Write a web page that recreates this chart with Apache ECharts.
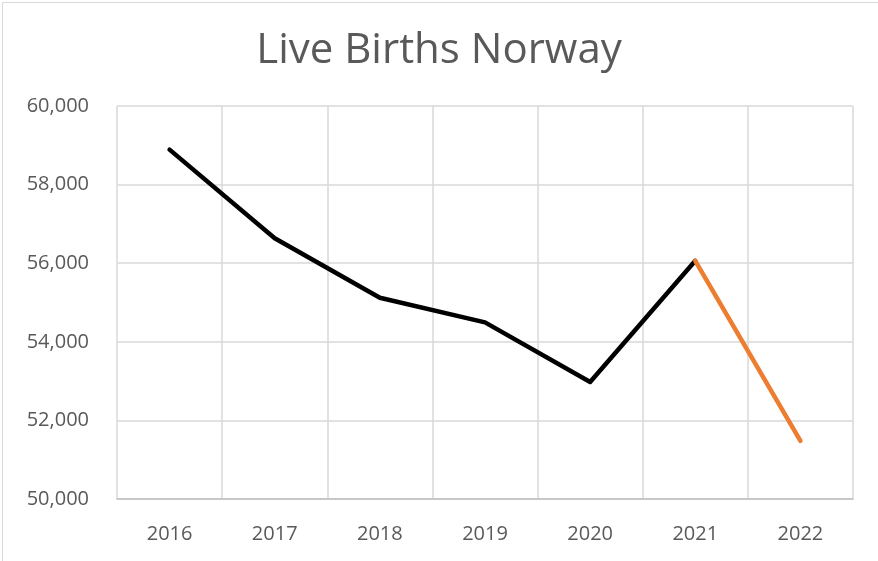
<!DOCTYPE html>
<html>
<head>
<meta charset="utf-8">
<script src="https://cdn.jsdelivr.net/npm/echarts@6/dist/echarts.min.js"></script>
<style>
html,body{margin:0;padding:0;background:#fff;}
#chart{width:878px;height:561px;}
</style>
</head>
<body>
<div id="chart"></div>
<script>
const years = ['2016','2017','2018','2019','2020','2021','2022'];
const birthsMain = [58890, 56633, 55120, 54495, 52979, 56060, null];
const birthsLatest = [null, null, null, null, null, 56060, 51480];
const yTicks = [50000, 52000, 54000, 56000, 58000, 60000];

const chart = echarts.init(document.getElementById('chart'));
const font = '"Open Sans", "Liberation Sans", sans-serif';
chart.setOption({
  animation: false,
  backgroundColor: '#fff',
  title: {
    text: 'Live Births Norway',
    left: 'center',
    top: 25,
    textStyle: { fontFamily: font, fontSize: 42, fontWeight: 'normal', color: '#595959' }
  },
  graphic: [{
    type: 'rect', left: 0, top: 0,
    shape: { x: 0.5, y: 0.5, width: 877, height: 560 },
    style: { fill: 'none', stroke: '#d9d9d9', lineWidth: 1 }
  }],
  grid: { left: 117, right: 25, top: 106, bottom: 62 },
  xAxis: {
    type: 'category',
    data: years,
    boundaryGap: true,
    axisLine: { show: true, lineStyle: { color: '#bfbfbf', width: 1.5 } },
    axisTick: { show: false },
    splitLine: { show: true, lineStyle: { color: '#d9d9d9', width: 1.5 } },
    axisLabel: { fontFamily: font, fontSize: 20, color: '#595959', margin: 25 }
  },
  yAxis: {
    type: 'value',
    min: yTicks[0],
    max: yTicks[yTicks.length - 1],
    interval: 2000,
    axisLine: { show: false },
    axisTick: { show: false },
    splitLine: { lineStyle: { color: '#d9d9d9', width: 1.5 } },
    axisLabel: {
      fontFamily: font, fontSize: 20, color: '#595959', margin: 28,
      formatter: v => v.toLocaleString('en-US')
    }
  },
  series: [
    {
      type: 'line', data: birthsMain, symbol: 'none', connectNulls: false,
      lineStyle: { color: '#000000', width: 4.5, cap: 'round', join: 'round' }
    },
    {
      type: 'line', data: birthsLatest, symbol: 'none',
      lineStyle: { color: '#ed7d31', width: 4.5, cap: 'round', join: 'round' }
    }
  ]
});
</script>
</body>
</html>
